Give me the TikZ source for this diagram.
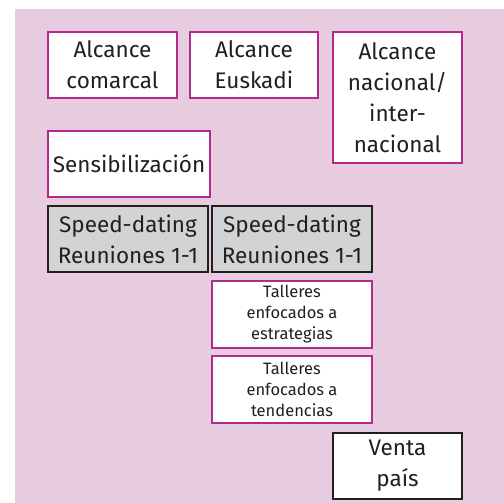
\documentclass[tikz,border=0pt]{standalone}
\usepackage{fontspec}
\setmainfont{Fira Sans}
\definecolor{fondo}{HTML}{E7CCE0}
\definecolor{borde}{HTML}{B12A8C}
\definecolor{gris}{HTML}{D1D3D4}
\definecolor{negro}{HTML}{231F20}
\tikzset{
  caja/.style={draw=borde,fill=white,line width=2pt,align=center,text=negro,inner sep=0pt,
    font=\fontsize{22.5}{31}\selectfont},
  cajagris/.style={caja,draw=negro,fill=gris},
  cajanegra/.style={caja,draw=negro},
  cajapeq/.style={caja,font=\fontsize{16.5}{21}\selectfont}
}

\begin{document}
\begin{tikzpicture}[x=1pt,y=-1pt]
\useasboundingbox (0,0) rectangle (504,503);
\fill [fondo] (15,9) rectangle (504,503);

% alcance
\node [caja,minimum width=129pt,minimum height=66pt] (comarcal) at (112.5,65) {Alcance\\comarcal};
\node [caja,minimum width=128pt,minimum height=66pt] (euskadi) at (254,65) {Alcance\\Euskadi};
\node [caja,minimum width=129pt,minimum height=131pt] (nacional) at (397.5,97.5) {Alcance\\nacional/\\inter-\\nacional};

\node [caja,minimum width=162pt,minimum height=66pt] (sensib) at (129,164) {Sensibilización};

% reuniones
\node [cajagris,minimum width=160pt,minimum height=66pt] (speedA) at (128,239) {Speed-dating\\Reuniones 1-1};
\node [cajagris,minimum width=160pt,minimum height=66pt] (speedB) at (292,239) {Speed-dating\\Reuniones 1-1};

% talleres
\node [cajapeq,minimum width=160pt,minimum height=67pt] (tallerA) at (292,314.5) {Talleres\\enfocados a\\estrategias};
\node [cajapeq,minimum width=160pt,minimum height=67pt] (tallerB) at (292,389.5) {Talleres\\enfocados a\\tendencias};

\node [cajanegra,minimum width=129pt,minimum height=66pt] (venta) at (397.5,466) {Venta\\país};
\end{tikzpicture}
\end{document}
